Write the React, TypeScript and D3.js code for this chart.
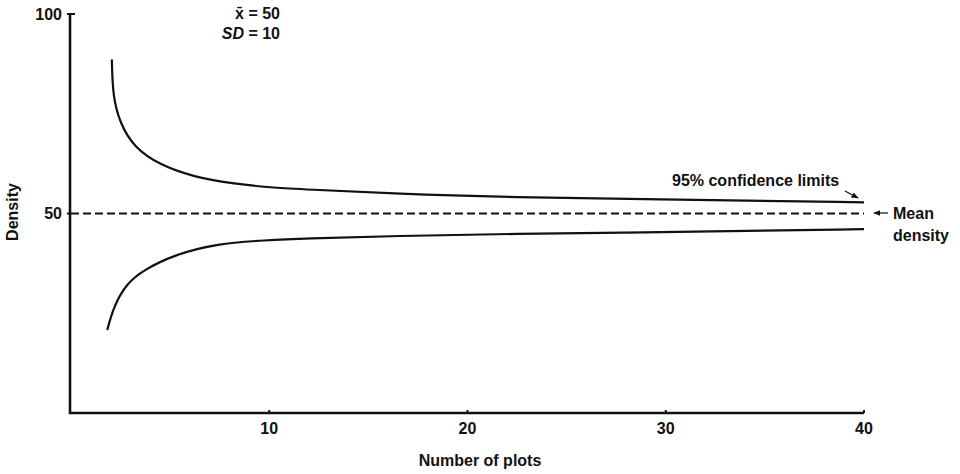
import React from "react";
import * as d3 from "d3";

const upperN = [2.06, 2.11, 2.47, 3.15, 4.49, 6.18, 8.2, 10.4, 11.6, 16.6, 21.7, 31.8, 40];
const upperV = [88.6, 79.3, 72.7, 66.7, 62.1, 59.2, 57.4, 56.4, 56.1, 54.9, 54.1, 53.4, 52.8];
const lowerN = [1.83, 2.14, 2.81, 3.65, 5.17, 7.36, 9.88, 11.6, 16.6, 21.7, 31.8, 40];
const lowerV = [20.8, 26.6, 32.5, 35.8, 39.6, 42.5, 43.3, 43.7, 44.4, 44.9, 45.4, 46.1];
const meanValue = 50;
const xTicks = [10, 20, 30, 40];
const yTicks = [50, 100];

export default function App() {
  const x = d3.scaleLinear().domain([0, 40]).range([71, 864]);
  const y = d3.scaleLinear().domain([0, 100]).range([413, 14]);
  const line = d3
    .line<[number, number]>()
    .x((d) => x(d[0]))
    .y((d) => y(d[1]))
    .curve(d3.curveBasis);
  const upper = upperN.map((n, i) => [n, upperV[i]] as [number, number]);
  const lower = lowerN.map((n, i) => [n, lowerV[i]] as [number, number]);
  const font = "'Liberation Sans', Arial, Helvetica, sans-serif";
  const ink = "#111";
  return (
    <svg
      width={960}
      height={474}
      style={{ position: "absolute", left: 0, top: 0, background: "#fff" }}
      fontFamily={font}
      fontWeight="bold"
      fontSize={16}
      fill={ink}
    >
      <defs>
        <marker id="ah" viewBox="0 0 10 10" refX="9" refY="5" markerWidth="6" markerHeight="6" orient="auto-start-reverse">
          <path d="M0,1 L10,5 L0,9 Z" fill={ink} />
        </marker>
      </defs>
      {/* axes */}
      <line x1={x(0) - 1} x2={x(0) - 1} y1={y(100)} y2={y(0) + 1} stroke={ink} strokeWidth={2.6} />
      <line x1={x(0) - 2} x2={x(40)} y1={y(0)} y2={y(0)} stroke={ink} strokeWidth={2.6} />
      <line x1={x(0) - 1} x2={x(0) + 4} y1={y(100)} y2={y(100)} stroke={ink} strokeWidth={2} />
      {yTicks.map((t) => (
        <g key={t}>
          <line x1={x(0) - 4} x2={x(0)} y1={y(t)} y2={y(t)} stroke={ink} strokeWidth={2} />
          <text x={62} y={y(t)} textAnchor="end" dominantBaseline="central">
            {t}
          </text>
        </g>
      ))}
      {xTicks.map((t) => (
        <g key={t}>
          <line x1={x(t)} x2={x(t)} y1={y(0)} y2={y(0) - 3} stroke={ink} strokeWidth={2} />
          <text x={x(t)} y={428} textAnchor="middle" dominantBaseline="central">
            {t}
          </text>
        </g>
      ))}
      {/* mean line */}
      <line
        x1={x(0)}
        x2={x(40)}
        y1={y(meanValue)}
        y2={y(meanValue)}
        stroke={ink}
        strokeWidth={1.8}
        strokeDasharray="8,4"
      />
      {/* confidence limits */}
      <path d={line(upper) || ""} fill="none" stroke={ink} strokeWidth={2.2} />
      <path d={line(lower) || ""} fill="none" stroke={ink} strokeWidth={2.2} />
      {/* labels */}
      <text x={480} y={460} textAnchor="middle" dominantBaseline="central">
        Number of plots
      </text>
      <text transform="translate(12,212) rotate(-90)" textAnchor="middle" dominantBaseline="central">
        Density
      </text>
      <text x={280} y={13} textAnchor="end" dominantBaseline="central">
        x̄ = 50
      </text>
      <text x={280} y={33} textAnchor="end" dominantBaseline="central">
        <tspan fontStyle="italic">SD</tspan> = 10
      </text>
      <text x={672} y={180} dominantBaseline="central">
        95% confidence limits
      </text>
      <line x1={845} y1={191} x2={858} y2={198} stroke={ink} strokeWidth={1.2} markerEnd="url(#ah)" />
      <line x1={888} y1={213} x2={874} y2={213} stroke={ink} strokeWidth={1.2} markerEnd="url(#ah)" />
      <text x={893} y={213} dominantBaseline="central">
        Mean
      </text>
      <text x={893} y={235} dominantBaseline="central">
        density
      </text>
    </svg>
  );
}
